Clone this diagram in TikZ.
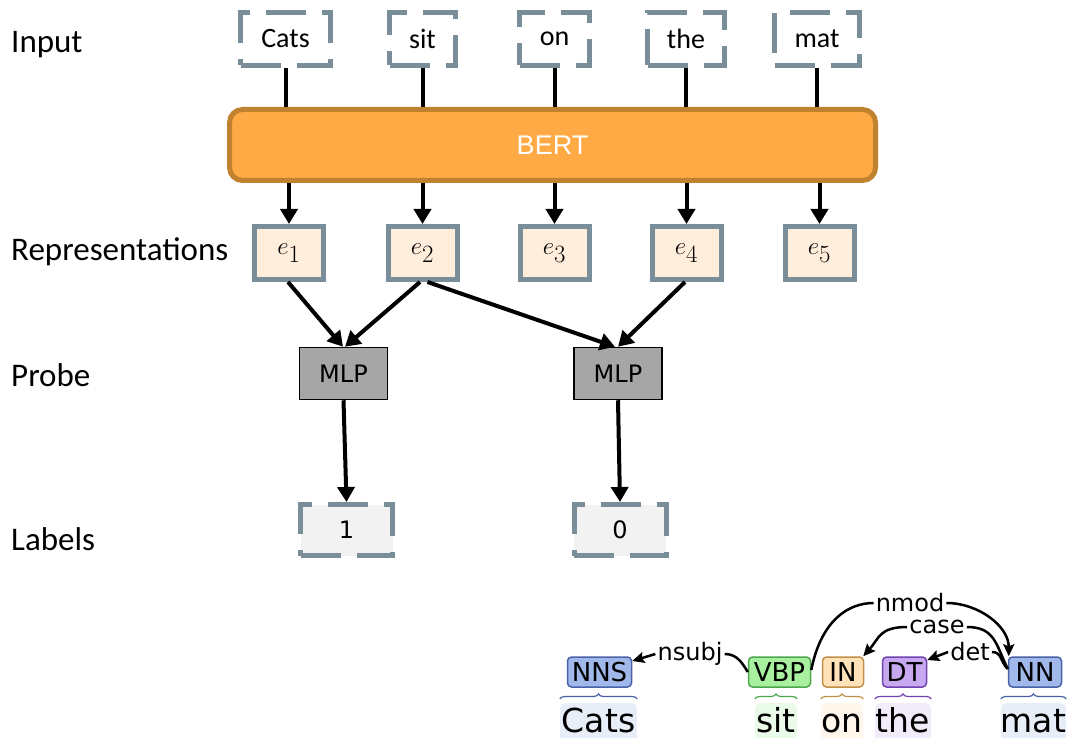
\documentclass[tikz,border=0pt]{standalone}
\usepackage{fontspec}
\setmainfont{Carlito}
\newfontfamily\dejavu{DejaVu Sans}
\newfontfamily\arialfam{Liberation Sans}
\usetikzlibrary{arrows.meta,decorations.pathreplacing}

\definecolor{slate}{HTML}{7A8E99}
\definecolor{bertfill}{HTML}{FFAA44}
\definecolor{bertedge}{HTML}{C0822F}
\definecolor{embfill}{HTML}{FFEEDB}
\definecolor{mlpfill}{HTML}{A6A6A6}
\definecolor{labfill}{HTML}{F2F2F2}
% part-of-speech colours
\definecolor{nnfill}{HTML}{A0B8EA}
\definecolor{nnedge}{HTML}{4A63A8}
\definecolor{nnbg}{HTML}{E8EEF8}
\definecolor{vbfill}{HTML}{A8F0A0}
\definecolor{vbedge}{HTML}{4CA84C}
\definecolor{vbbg}{HTML}{EAFBEA}
\definecolor{infill}{HTML}{FFE2B8}
\definecolor{inedge}{HTML}{C0904A}
\definecolor{inbg}{HTML}{FFF6EC}
\definecolor{dtfill}{HTML}{C8A8F0}
\definecolor{dtedge}{HTML}{7045B0}
\definecolor{dtbg}{HTML}{F2ECFA}

\tikzset{
  side/.style={font=\fontsize{33}{33}\selectfont, inner sep=0pt, anchor=base west},
  tokbox/.style={draw=slate, line width=5pt, dash pattern=on 40pt off 16pt,
    minimum height=53pt, inner sep=0pt, font=\fontsize{28}{28}\selectfont},
  embbox/.style={draw=slate, fill=embfill, line width=5pt, minimum width=69pt,
    minimum height=53pt, inner sep=0pt, font=\fontsize{35}{35}\selectfont},
  mlpbox/.style={draw=black, fill=mlpfill, line width=1.5pt, minimum width=88pt,
    minimum height=52pt, inner sep=0pt, font=\dejavu\fontsize{24}{24}\selectfont},
  labbox/.style={draw=slate, fill=labfill, line width=5pt, dash pattern=on 40pt off 16pt,
    minimum width=92pt, minimum height=51pt, inner sep=0pt,
    font=\dejavu\fontsize{24}{24}\selectfont},
  link/.style={line width=4pt, black},
  arr/.style={line width=4pt, black, -{Triangle[length=15pt,width=17pt]}},
  tagbox/.style={line width=1.5pt, rounded corners=4pt, minimum height=30pt,
    inner sep=0pt, font=\dejavu\fontsize{26}{26}\selectfont},
  wordbg/.style={rounded corners=5pt, inner sep=0pt, anchor=north},
  word/.style={inner sep=0pt, anchor=base, font=\dejavu\fontsize{33}{33}\selectfont},
  rel/.style={inner sep=2pt, font=\dejavu\fontsize{24}{24}\selectfont},
  dep/.style={line width=2.5pt, black},
  deparr/.style={dep, -{Stealth[length=12pt,width=11pt,inset=2pt]}},
  brc/.style={decorate, decoration={brace, amplitude=5pt}, line width=1.2pt},
}

\begin{document}
\begin{tikzpicture}[x=1pt, y=-1pt]
\useasboundingbox (0,0) rectangle (1074,738);

% row titles
\node[side] (tIn)  at (11,53)  {Input};
\node[side] (tRep) at (11,261) {Representations};
\node[side] (tPr)  at (11,386) {Probe};
\node[side] (tLab) at (11,550) {Labels};

% input tokens
\node[tokbox, minimum width=90pt] (in1) at (285.5,39) {Cats};
\node[tokbox, minimum width=66pt] (in2) at (422.5,39) {sit};
\node[tokbox, minimum width=70pt] (in3) at (554.5,39) {on};
\node[tokbox, minimum width=77pt] (in4) at (686,39)   {the};
\node[tokbox, minimum width=85pt] (in5) at (817,39)   {mat};

% encoder
\node[draw=bertedge, fill=bertfill, line width=5pt, rounded corners=13pt,
      minimum width=646pt, minimum height=71pt, inner sep=0pt, text=white,
      font=\arialfam\fontsize{27}{27}\selectfont] (bert) at (552.5,145) {BERT};

% contextual embeddings
\node[embbox] (e1) at (289,253)   {$e_1$};
\node[embbox] (e2) at (422.5,253) {$e_2$};
\node[embbox] (e3) at (554.5,253) {$e_3$};
\node[embbox] (e4) at (686.5,253) {$e_4$};
\node[embbox] (e5) at (819.5,253) {$e_5$};

% probes
\node[mlpbox] (m1) at (343.5,373.5) {MLP};
\node[mlpbox] (m2) at (618,373.5)   {MLP};

% probe outputs
\node[labbox] (o1) at (346.5,530) {1};
\node[labbox] (o2) at (620,530)   {0};

% tokens into the encoder
\foreach \i in {1,...,5}{
  \draw[link] (in\i.south) -- (in\i.south |- bert.north);
  \draw[arr] (bert.south -| e\i.north) -- (e\i.north);
}

% embeddings into the probes
\draw[arr] ([xshift=-1pt]e1.south) -- ([xshift=-0.5pt]m1.north);
\draw[arr] ([xshift=-2.5pt]e2.south) -- ([xshift=1.5pt]m1.north);
\draw[arr] ([xshift=5pt]e2.south) -- ([xshift=-3pt]m2.north);
\draw[arr] ([xshift=-1.5pt]e4.south) -- (m2.north);

% probes to labels
\draw[arr] (m1.south) -- (o1.north);
\draw[arr] (m2.south) -- (o2.north);

% dependency parse: word backgrounds (running off the lower edge)
\node[wordbg, fill=nnbg, minimum width=77pt, minimum height=45pt] (b1) at (598.5,703) {};
\node[wordbg, fill=vbbg, minimum width=42pt, minimum height=45pt] (b2) at (776,703)   {};
\node[wordbg, fill=inbg, minimum width=42pt, minimum height=45pt] (b3) at (842,703)   {};
\node[wordbg, fill=dtbg, minimum width=56pt, minimum height=45pt] (b4) at (903,703)   {};
\node[wordbg, fill=nnbg, minimum width=65pt, minimum height=45pt] (b5) at (1033.5,703) {};

% dependency parse: words
\node[word] (w1) at (598.5,732)  {Cats};
\node[word] (w2) at (776,732)    {sit};
\node[word] (w3) at (842,732)    {on};
\node[word] (w4) at (903,732)    {the};
\node[word] (w5) at (1033.5,732) {mat};

% part-of-speech tags
\node[tagbox, draw=nnedge, fill=nnfill, minimum width=64pt] (p1) at (599.5,672) {NNS};
\node[tagbox, draw=vbedge, fill=vbfill, minimum width=62pt] (p2) at (779.5,672) {VBP};
\node[tagbox, draw=inedge, fill=infill, minimum width=41pt] (p3) at (843,672)   {IN};
\node[tagbox, draw=dtedge, fill=dtfill, minimum width=44pt] (p4) at (904.5,672) {DT};
\node[tagbox, draw=nnedge, fill=nnfill, minimum width=53pt] (p5) at (1035,672)  {NN};

% braces joining tags and words
\draw[brc, nnedge] ([yshift=4pt]b1.north west) -- ([yshift=4pt]b1.north east);
\draw[brc, vbedge] ([yshift=4pt]b2.north west) -- ([yshift=4pt]b2.north east);
\draw[brc, inedge] ([yshift=4pt]b3.north west) -- ([yshift=4pt]b3.north east);
\draw[brc, dtedge] ([yshift=4pt]b4.north west) -- ([yshift=4pt]b4.north east);
\draw[brc, nnedge] ([yshift=4pt]b5.north west) -- ([yshift=4pt]b5.north east);

% dependency relations
\node[rel] (nsubj) at (690,654) {nsubj};
\node[rel] (nmod)  at (910,603) {nmod};
\node[rel] (case)  at (937,627) {case};
\node[rel] (det)   at (970,652) {det};

\draw[deparr] (nsubj.west) -- ([yshift=11pt]p1.east);
\draw[dep] (nsubj.east) .. controls +(12,0) and +(-6,-10) .. (p2.west);

\draw[dep] ([yshift=2pt]p2.east) .. controls +(10,-50) and +(-25,0) .. (nmod.west);
\draw[deparr] (nmod.east) .. controls +(32,0) and +(0,-30) .. ([xshift=1pt]p5.north west);

\draw[deparr] (case.west) .. controls +(-28,0) and +(16,-18) .. ([xshift=-1pt]p3.north east);
\draw[dep] (case.east) .. controls +(28,0) and +(-12,-25) .. ([yshift=3pt]p5.west);

\draw[deparr] (det.west) -- ([yshift=12pt]p4.east);
\draw[dep] (det.east) .. controls +(10,0) and +(-8,-8) .. ([yshift=3pt]p5.west);
\end{tikzpicture}
\end{document}
